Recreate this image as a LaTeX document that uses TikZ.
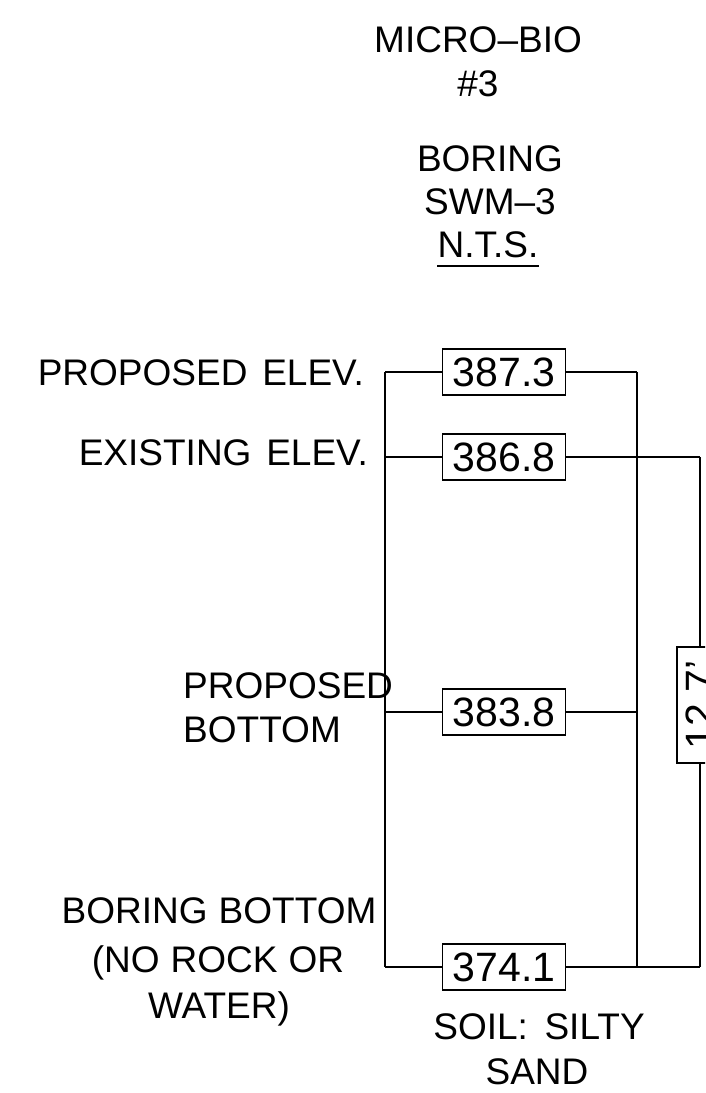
\documentclass[tikz,border=0pt]{standalone}
\usepackage{fontspec}
\setmainfont{Liberation Sans}
\begin{document}
\begin{tikzpicture}[x=1pt,y=-1pt,
  wire/.style={line width=2pt},
  valbox/.style={draw, line width=1.8pt, fill=white, minimum width=123pt, minimum height=46pt, inner sep=0pt, font=\fontsize{41}{44}\selectfont},
  lbl/.style={inner sep=0pt, font=\fontsize{37}{44}\selectfont}]
\useasboundingbox (0,0) rectangle (705,1093);
\clip (0,0) rectangle (705,1093);
% title
\node[lbl, anchor=base] (t1) at (478,52) {MICRO–BIO};
\node[lbl, anchor=base] (t2) at (478,96) {\#3};
\node[lbl, anchor=base] (t3) at (490,171) {BORING};
\node[lbl, anchor=base] (t4) at (490,214) {SWM–3};
\node[lbl, anchor=base] (t5) at (488,257) {N.T.S.};
\draw[line width=1.6pt] (t5.south west |- 0,266) coordinate (u1) -- (t5.south east |- 0,266) coordinate (u2);
% frame coordinates
\coordinate (L1) at (385,372);
\coordinate (R1) at (637,372);
\coordinate (L2) at (385,457);
\coordinate (R2) at (637,457);
\coordinate (O2) at (700,457);
\coordinate (L3) at (385,712);
\coordinate (R3) at (637,712);
\coordinate (L4) at (385,967);
\coordinate (R4) at (637,967);
\coordinate (O4) at (700,967);
% boxes
\node[valbox] (b1) at (504,372) {387.3};
\node[valbox] (b2) at (504,457) {386.8};
\node[valbox] (b3) at (504,712) {383.8};
\node[valbox] (b4) at (504,967) {374.1};
\node[valbox, rotate=90, minimum width=116pt] (d) at (700,705) {12.7'};
% connectors
\draw[wire] (L1) -- (L4);
\draw[wire] (R1) -- (R4);
\draw[wire] (L1) -- (b1.west);
\draw[wire] (b1.east) -- (R1);
\draw[wire] (L2) -- (b2.west);
\draw[wire] (b2.east) -- (O2);
\draw[wire] (O2) -- (d.east);
\draw[wire] (d.west) -- (O4);
\draw[wire] (L3) -- (b3.west);
\draw[wire] (b3.east) -- (R3);
\draw[wire] (L4) -- (b4.west);
\draw[wire] (b4.east) -- (O4);
% left labels
\node[lbl, anchor=base east] (p1) at (364,385) {PROPOSED\hspace{0.4em}ELEV.};
\node[lbl, anchor=base east] (e1) at (368,465) {EXISTING\hspace{0.4em}ELEV.};
\node[lbl, anchor=base west] (pb1) at (183,698) {PROPOSED};
\node[lbl, anchor=base west] (pb2) at (183,742) {BOTTOM};
\node[lbl, anchor=base] (bb1) at (219,923) {BORING\hspace{0.3em}BOTTOM};
\node[lbl, anchor=base] (bb2) at (218,972) {(NO\hspace{0.3em}ROCK\hspace{0.3em}OR};
\node[lbl, anchor=base] (bb3) at (219,1018) {WATER)};
% soil
\node[lbl, anchor=base] (s1) at (539,1039) {SOIL:\hspace{0.45em}SILTY};
\node[lbl, anchor=base] (s2) at (537,1084) {SAND};
\end{tikzpicture}
\end{document}
